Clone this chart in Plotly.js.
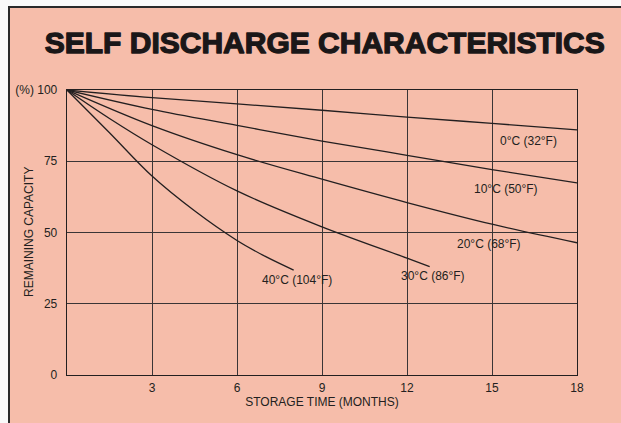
<!DOCTYPE html>
<html>
<head>
<meta charset="utf-8">
<script src="https://cdn.plot.ly/plotly-3.0.1.min.js"></script>
<style>
html,body{margin:0;padding:0;background:#fafafa;width:621px;height:423px;overflow:hidden;}
#frame{position:absolute;left:8px;top:6px;width:613px;height:417px;background:#F6BDAA;border-left:2px solid #2a2a2a;border-top:2px solid #2a2a2a;box-sizing:border-box;}
#chart{position:absolute;left:0;top:0;width:621px;height:423px;}
#chart .gtitle{stroke:#1a1718;stroke-width:1.3px;stroke-linejoin:round;}
</style>
</head>
<body>
<div id="frame"></div>
<div id="chart"></div>
<script>
// Data
const months0C = [0, 3, 6, 9, 12, 15, 18];
const cap0C = [100, 97.3, 95.1, 92.9, 90.5, 88.3, 86];
const months10C = [0, 3, 6, 9, 12, 15, 18];
const cap10C = [100, 93.2, 87.6, 82.1, 77.1, 72.1, 67.4];
const months20C = [0, 3, 6, 9, 12, 15, 18];
const cap20C = [100, 87.5, 77.3, 68.7, 60.5, 52.9, 46.4];
const months30C = [0, 1.5, 3, 6, 9, 12, 12.8];
const cap30C = [100, 90, 80.8, 64.6, 52, 41, 38];
const months40C = [0, 1.5, 3, 4.5, 6, 7, 8];
const cap40C = [100, 85, 69.8, 57.6, 47.2, 41.6, 36.8];

const seriesLabels = ['0°C (32°F)', '10°C (50°F)', '20°C (68°F)', '30°C (86°F)', '40°C (104°F)'];
const labelX = [16.3, 15.5, 14.9, 12.9, 8.1];
const labelY = [82.0, 65.2, 45.9, 34.7, 33.3];

const xTickVals = [3, 6, 9, 12, 15, 18];
const xTickText = ['3', '6', '9', '12', '15', '18'];
const yTickVals = [0, 25, 50, 75, 100];
const yTickText = ['0', '25', '50', '75', '(%) 100'];

const lineColor = '#231F20';
const fontFam = 'Liberation Sans, Arial, sans-serif';
const allX = [months0C, months10C, months20C, months30C, months40C];
const allY = [cap0C, cap10C, cap20C, cap30C, cap40C];

const traces = allX.map((xs, i) => ({
  x: xs, y: allY[i], type: 'scatter', mode: 'lines',
  line: {color: lineColor, width: 1.3, shape: 'spline', smoothing: 1.0},
  name: seriesLabels[i], hoverinfo: 'skip'
}));

const annotations = seriesLabels.map((t, i) => ({
  x: labelX[i], y: labelY[i], xref: 'x', yref: 'y', text: t, showarrow: false,
  xanchor: 'center', yanchor: 'middle',
  font: {family: fontFam, size: 12, color: lineColor}
}));
annotations.push({
  text: 'REMAINING CAPACITY', xref: 'paper', yref: 'paper',
  x: (29 - 67) / 510, y: (375 - 232) / 285, textangle: -90,
  showarrow: false, xanchor: 'center', yanchor: 'middle',
  font: {family: fontFam, size: 12, color: lineColor}
});

const layout = {
  width: 621, height: 423,
  paper_bgcolor: 'rgba(0,0,0,0)', plot_bgcolor: 'rgba(0,0,0,0)',
  margin: {l: 67, r: 44, t: 90, b: 48, pad: 0},
  showlegend: false,
  title: {
    text: 'SELF DISCHARGE CHARACTERISTICS',
    x: 0.523, xref: 'container', xanchor: 'center',
    y: 1 - 42/423, yref: 'container', yanchor: 'middle',
    font: {family: fontFam, size: 30, color: '#1a1718', weight: 900}
  },
  xaxis: {
    range: [0, 18], tickvals: xTickVals, ticktext: xTickText,
    showgrid: true, gridcolor: '#3a3536', gridwidth: 1,
    zeroline: false, showline: true, linecolor: lineColor, linewidth: 1.3, mirror: true,
    ticks: '', ticklabelstandoff: 1,
    tickfont: {family: fontFam, size: 12, color: lineColor},
    title: {text: 'STORAGE TIME (MONTHS)', standoff: 4,
      font: {family: fontFam, size: 12, color: lineColor}},
    fixedrange: true
  },
  yaxis: {
    range: [0, 100], tickvals: yTickVals, ticktext: yTickText,
    showgrid: true, gridcolor: '#3a3536', gridwidth: 1,
    zeroline: false, showline: true, linecolor: lineColor, linewidth: 1.3, mirror: true,
    ticks: '', ticklabelstandoff: 6,
    tickfont: {family: fontFam, size: 12, color: lineColor},
    fixedrange: true
  },
  annotations: annotations
};

Plotly.newPlot('chart', traces, layout, {displayModeBar: false, staticPlot: true});
</script>
</body>
</html>
